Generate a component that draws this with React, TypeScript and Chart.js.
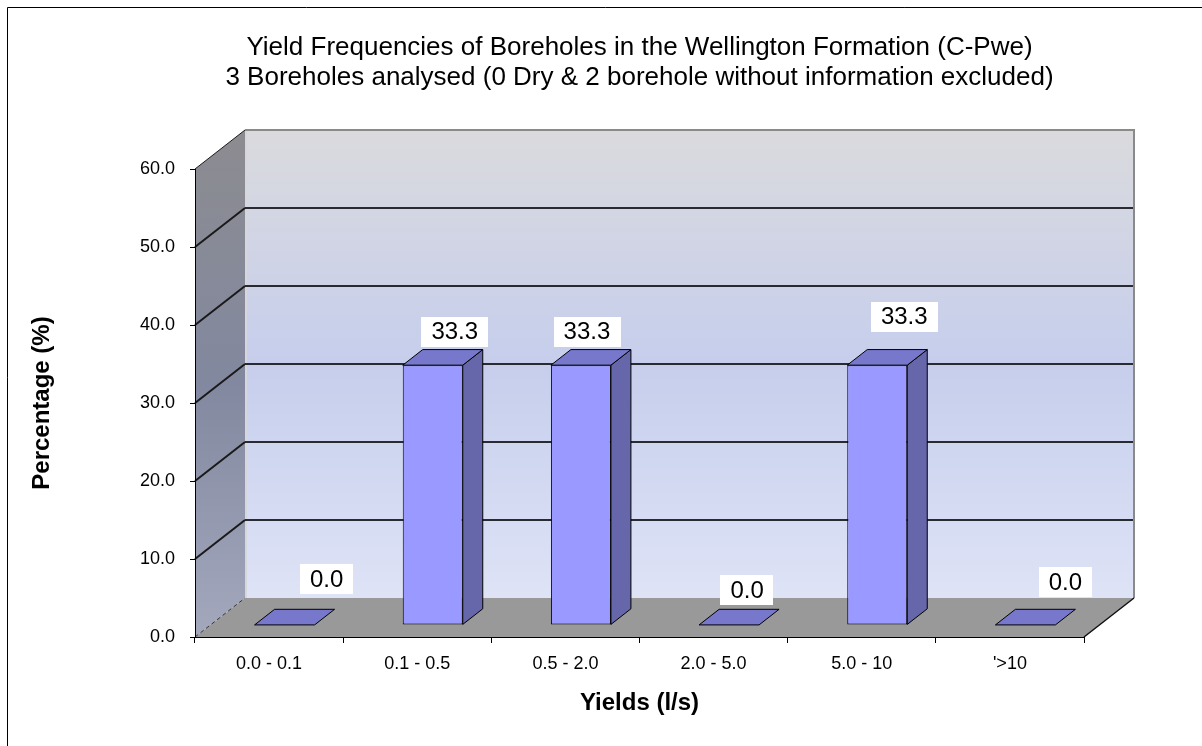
import React, { useEffect, useRef } from "react";
import { Chart, registerables } from "chart.js";

Chart.register(...registerables);

// ---------- data ----------
const categories = ["0.0 - 0.1", "0.1 - 0.5", "0.5 - 2.0", "2.0 - 5.0", "5.0 - 10", "'>10"];
const percentages = [0.0, 33.3, 33.3, 0.0, 33.3, 0.0];
const yTickValues = [0, 10, 20, 30, 40, 50, 60];
const titleLines = [
  "Yield Frequencies of Boreholes in the Wellington Formation (C-Pwe)",
  "3 Boreholes analysed (0 Dry & 2 borehole without information excluded)",
];
const yAxisTitle = "Percentage (%)";
const xAxisTitle = "Yields (l/s)";

// ---------- styling (label nudges, 3D depth) ----------
const labelNudgeX = [22, 2, -14, -2, 7, 20];
const labelNudgeY = [-30, -18, -18, -19, -33, -27];
const FONT = "'Liberation Sans', Arial, sans-serif";
const WALL_DX = 50;
const WALL_DY = -39;
const BAR_F0 = 0.31;
const BAR_F1 = 0.71;

const threeD = {
  id: "threeD",
  beforeDraw(chart: any) {
    const { ctx, chartArea } = chart;
    const { left, right, top, bottom } = chartArea;
    const y = chart.scales.y;
    const bl = left + WALL_DX, br = right + WALL_DX, bt = top + WALL_DY, bb = bottom + WALL_DY;
    ctx.save();
    // outer frame (top & left visible)
    ctx.strokeStyle = "#000";
    ctx.lineWidth = 1;
    ctx.beginPath();
    ctx.moveTo(7.5, 800);
    ctx.lineTo(7.5, 7.5);
    ctx.lineTo(1250, 7.5);
    ctx.stroke();

    // back wall
    const g = ctx.createLinearGradient(0, bt, 0, bb);
    g.addColorStop(0, "#DADADD");
    g.addColorStop(0.5, "#C6CEEC");
    g.addColorStop(1, "#DEE3F6");
    ctx.fillStyle = g;
    ctx.fillRect(bl, bt, br - bl, bb - bt);

    // left wall
    const lg = ctx.createLinearGradient(0, bt, 0, bottom);
    lg.addColorStop(0, "#8C8C90");
    lg.addColorStop(0.5, "#82889F");
    lg.addColorStop(1, "#A3A8BD");
    ctx.fillStyle = lg;
    ctx.beginPath();
    ctx.moveTo(left, top);
    ctx.lineTo(bl, bt);
    ctx.lineTo(bl, bb);
    ctx.lineTo(left, bottom);
    ctx.closePath();
    ctx.fill();

    // floor
    ctx.fillStyle = "#999999";
    ctx.beginPath();
    ctx.moveTo(left, bottom);
    ctx.lineTo(bl, bb);
    ctx.lineTo(br, bb);
    ctx.lineTo(right, bottom);
    ctx.closePath();
    ctx.fill();

    // light seam between left wall and back wall
    ctx.strokeStyle = "#D6D6DC";
    ctx.lineWidth = 2;
    ctx.beginPath();
    ctx.moveTo(bl + 1, bt);
    ctx.lineTo(bl + 1, bb);
    ctx.stroke();

    // grid lines
    yTickValues.forEach((v) => {
      if (v === 0) return;
      const yf = y.getPixelForValue(v);
      const yb = yf + WALL_DY;
      if (v < 60) {
        ctx.strokeStyle = "#2A2A33";
        ctx.lineWidth = 2;
        ctx.beginPath();
        ctx.moveTo(bl, yb);
        ctx.lineTo(br, yb);
        ctx.stroke();
      }
      ctx.strokeStyle = "#1A1A1A";
      ctx.lineWidth = v < 60 ? 2 : 1;
      ctx.beginPath();
      ctx.moveTo(left, yf);
      ctx.lineTo(bl, yb);
      ctx.stroke();
    });

    // back wall border (top & right)
    ctx.strokeStyle = "#8A8A8A";
    ctx.lineWidth = 2;
    ctx.beginPath();
    ctx.moveTo(bl, bt);
    ctx.lineTo(br, bt);
    ctx.lineTo(br, bb);
    ctx.stroke();

    // dashed bottom edge of the left wall
    ctx.strokeStyle = "#333";
    ctx.lineWidth = 1;
    ctx.setLineDash([4, 3]);
    ctx.beginPath();
    ctx.moveTo(left, bottom);
    ctx.lineTo(bl, bb);
    ctx.stroke();
    ctx.setLineDash([]);

    // floor right edge
    ctx.strokeStyle = "#111";
    ctx.lineWidth = 1.5;
    ctx.beginPath();
    ctx.moveTo(right, bottom);
    ctx.lineTo(br, bb);
    ctx.stroke();
    ctx.restore();
  },
  beforeDatasetsDraw(chart: any) {
    chart.ctx.save();
    chart.ctx.translate(WALL_DX * BAR_F0, WALL_DY * BAR_F0);
  },
  afterDatasetsDraw(chart: any) {
    const ctx = chart.ctx;
    ctx.restore();
    const meta = chart.getDatasetMeta(0);
    const f0x = WALL_DX * BAR_F0, f0y = WALL_DY * BAR_F0;
    const f1x = WALL_DX * BAR_F1, f1y = WALL_DY * BAR_F1;
    const ddx = f1x - f0x, ddy = f1y - f0y;
    ctx.save();
    ctx.lineWidth = 1;
    ctx.strokeStyle = "#000";
    ctx.lineJoin = "round";
    meta.data.forEach((el: any) => {
      const p = el.getProps(["x", "y", "base", "width"], true);
      const l = p.x - p.width / 2 + f0x;
      const r = p.x + p.width / 2 + f0x;
      const t = p.y + f0y;
      const b = p.base + f0y;
      // side face
      if (b - t > 0.5) {
        ctx.fillStyle = "#6666AA";
        ctx.beginPath();
        ctx.moveTo(r, t);
        ctx.lineTo(r + ddx, t + ddy);
        ctx.lineTo(r + ddx, b + ddy);
        ctx.lineTo(r, b);
        ctx.closePath();
        ctx.fill();
        ctx.stroke();
      }
      // top face
      ctx.fillStyle = "#7777CC";
      ctx.beginPath();
      ctx.moveTo(l, t);
      ctx.lineTo(l + ddx, t + ddy);
      ctx.lineTo(r + ddx, t + ddy);
      ctx.lineTo(r, t);
      ctx.closePath();
      ctx.fill();
      ctx.stroke();
    });
    // data labels
    ctx.font = `24px ${FONT}`;
    ctx.textAlign = "center";
    ctx.textBaseline = "middle";
    meta.data.forEach((el: any, i: number) => {
      const p = el.getProps(["x", "y"], true);
      const txt = percentages[i].toFixed(1);
      const cx = p.x + f1x + labelNudgeX[i];
      const cy = p.y + f1y + labelNudgeY[i];
      const w = ctx.measureText(txt).width + 20;
      const h = 30;
      ctx.fillStyle = "#FFFFFF";
      ctx.fillRect(Math.round(cx - w / 2), Math.round(cy - h / 2), Math.round(w), h);
      ctx.fillStyle = "#000";
      ctx.fillText(txt, cx, cy + 1);
    });
    ctx.restore();
  },
};

export default function App() {
  const ref = useRef<HTMLCanvasElement | null>(null);
  useEffect(() => {
    if (!ref.current) return;
    Chart.defaults.font.family = FONT;
    Chart.defaults.color = "#000";
    const chart = new Chart(ref.current, {
      type: "bar",
      data: {
        labels: categories,
        datasets: [
          {
            label: "Percentage",
            data: percentages,
            backgroundColor: "#9999FF",
            borderColor: "#000000",
            borderWidth: 1,
            borderSkipped: false,
            barPercentage: 0.405,
            categoryPercentage: 1,
          },
        ],
      },
      options: {
        responsive: false,
        animation: false,
        layout: { padding: { left: 8, right: 118, top: 8, bottom: 8 } },
        plugins: {
          legend: { display: false },
          tooltip: { enabled: false },
          title: {
            display: true,
            fullSize: false,
            text: titleLines,
            color: "#000",
            font: { size: 26, weight: "normal", family: FONT, lineHeight: 30 / 26 },
            padding: { top: 25, bottom: 76 },
          },
        },
        scales: {
          x: {
            type: "category",
            grid: { offset: true, drawOnChartArea: false, drawTicks: true, tickLength: 6, color: "#000", lineWidth: 1 },
            border: { display: true, color: "#000", width: 1 },
            ticks: { color: "#000", font: { size: 18, family: FONT }, padding: 10, maxRotation: 0, autoSkip: false },
            title: {
              display: true,
              text: xAxisTitle,
              color: "#000",
              font: { size: 24, weight: "bold", family: FONT },
              padding: { top: 0, bottom: 20 },
            },
            afterFit: (s: any) => {
              s.height = 101;
            },
          },
          y: {
            min: 0,
            max: 60,
            afterBuildTicks: (s: any) => {
              s.ticks = yTickValues.map((v) => ({ value: v }));
            },
            ticks: {
              color: "#000",
              font: { size: 18, family: FONT },
              padding: 15,
              callback: (v: any) => Number(v).toFixed(1),
            },
            grid: { drawOnChartArea: false, drawTicks: true, tickLength: 5, color: "#000" },
            border: { display: true, color: "#000", width: 1 },
            title: {
              display: true,
              text: yAxisTitle,
              color: "#000",
              font: { size: 24, weight: "bold", family: FONT },
              padding: { top: 20, bottom: 0 },
            },
            afterFit: (s: any) => {
              s.width = 187;
            },
          },
        },
      },
      plugins: [threeD],
    } as any);
    return () => chart.destroy();
  }, []);
  return (
    <div style={{ position: "fixed", left: 0, top: 0, width: 1202, height: 746, background: "#fff" }}>
      <canvas ref={ref} width={1202} height={746} style={{ display: "block" }} />
    </div>
  );
}
